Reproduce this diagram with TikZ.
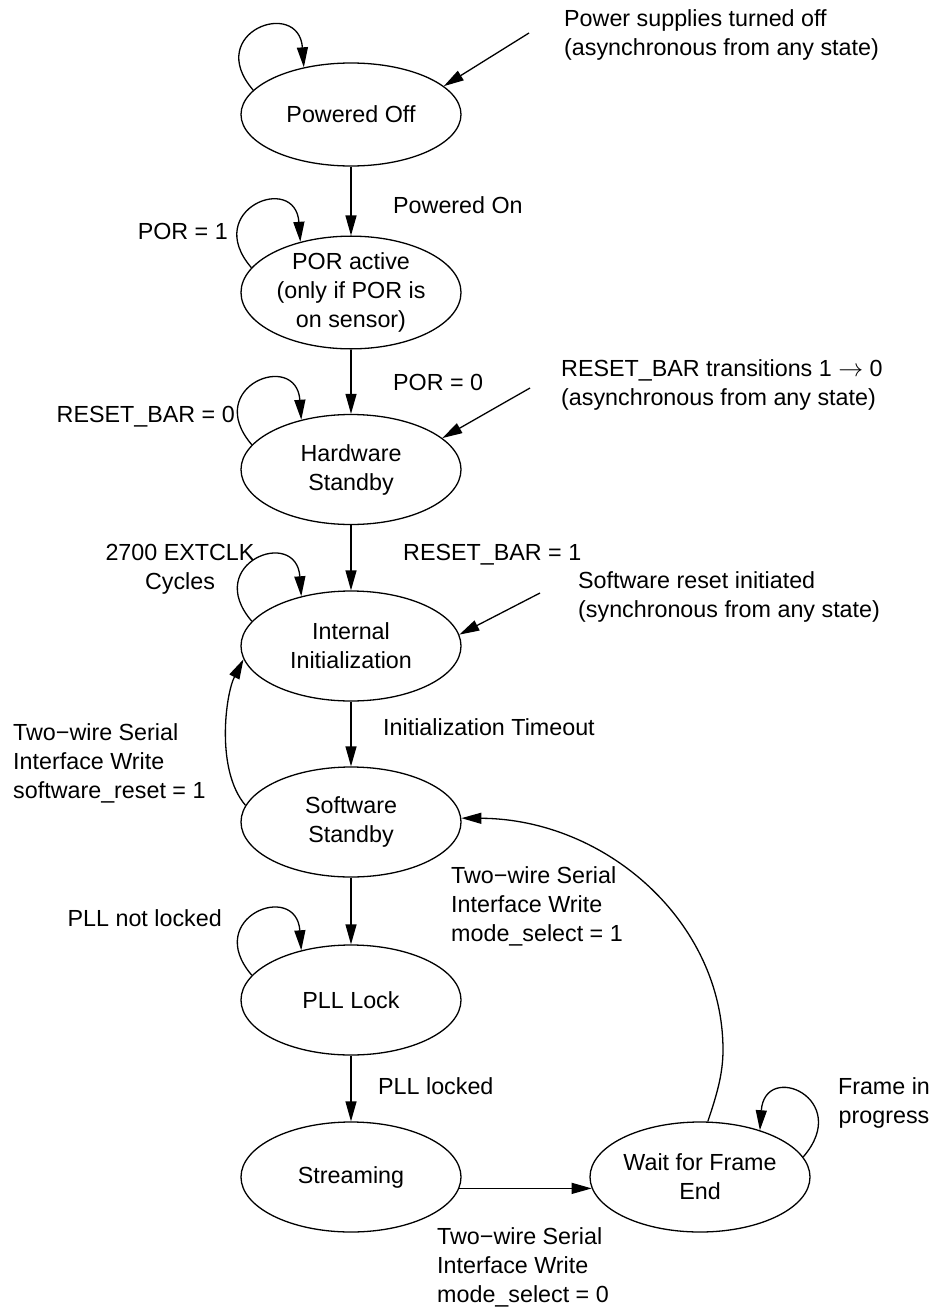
\documentclass[tikz,border=0pt]{standalone}
\usepackage{fontspec}
\setmainfont{Liberation Sans}
\usetikzlibrary{arrows.meta,shapes.geometric}
\newcommand\dfont{\fontsize{23.3}{29}\selectfont}
\begin{document}
\begin{tikzpicture}[x=1pt,y=-1pt,
  state/.style={draw, ellipse, line width=1.3pt, inner sep=0pt, minimum width=220pt, minimum height=110pt, align=center, font=\dfont},
  lbl/.style={inner sep=0pt, font=\dfont, anchor=north west, align=left},
  arr/.style={-{Triangle[length=20pt,width=11pt]}, line width=1.3pt}]
\useasboundingbox (0,0) rectangle (938,1309);

% states
\node[state, minimum height=103pt] (po) at (351,114.5) {Powered Off};
\node[state] (por) at (351,292.5) {POR active\\(only if POR is\\on sensor)};
\node[state] (hs) at (351,469.5) {Hardware\\Standby};
\node[state] (ii) at (351,646) {Internal\\Initialization};
\node[state] (ss) at (351,822) {Software\\Standby};
\node[state] (pll) at (351,1000) {PLL Lock};
\node[state] (st) at (351,1177) {Streaming};
\node[state] (wfe) at (700,1177) {Wait for Frame\\End};

% main transitions
\draw[arr] (po) -- (por);
\draw[arr] (por) -- (hs);
\draw[arr] (hs) -- (ii);
\draw[arr] (ii) -- (ss);
\draw[arr] (ss) -- (pll);
\draw[arr] (pll) -- (st);
\draw[arr] (st.-6) -- (wfe.186);

% self loops
\draw[arr] (po.166) .. controls +(-50,-58) and +(-5,-70) .. (po.135);
\draw[arr] (por.166) .. controls +(-50,-58) and +(-5,-70) .. (por.135);
\draw[arr] (hs.166) .. controls +(-50,-58) and +(-5,-70) .. (hs.135);
\draw[arr] (ii.166) .. controls +(-50,-58) and +(-5,-70) .. (ii.135);
\draw[arr] (pll.166) .. controls +(-50,-58) and +(-5,-70) .. (pll.135);
\draw[arr] (wfe.11) .. controls +(50,-58) and +(5,-70) .. (wfe.38);

% back transitions
\draw[arr] (ss.171) .. controls +(-30,-35) and +(-18,35) .. (ii.187);
\draw[arr] (wfe.82) .. controls (716,1097) and (723,1075) .. (723,1050)
   .. controls (723,922) and (606,819) .. (ss.2);

% asynchronous entries
\coordinate (in1) at (529,33);
\coordinate (in2) at (530,388);
\coordinate (in3) at (540,593);
\draw[arr] (in1) -- (po.17);
\draw[arr] (in2) -- (hs.19);
\draw[arr] (in3) -- (ii.6);

% labels
\node[lbl] (l1) at (564,5.7) {\strut Power supplies turned off\\(asynchronous from any state)};
\node[lbl] (l2) at (393,192.7) {\strut Powered On};
\node[lbl, anchor=north east] (l3) at (228,218.7) {\strut POR = 1};
\node[lbl] (l4) at (393,369.7) {\strut POR = 0};
\node[lbl] (l5) at (561,355.7) {\strut RESET\_BAR transitions 1 $\rightarrow$ 0\\(asynchronous from any state)};
\node[lbl, anchor=north east] (l6) at (235,401.7) {\strut RESET\_BAR = 0};
\node[lbl] (l7) at (403,539.7) {\strut RESET\_BAR = 1};
\node[lbl, anchor=north, align=center] (l8) at (180,539.7) {\strut 2700 EXTCLK\\Cycles};
\node[lbl] (l9) at (578,567.7) {\strut Software reset initiated\\(synchronous from any state)};
\node[lbl] (l10) at (383,714.7) {\strut Initialization Timeout};
\node[lbl] (l11) at (13,719.7) {\strut Two−wire Serial\\Interface Write\\software\_reset = 1};
\node[lbl] (l12) at (451,862.7) {\strut Two−wire Serial\\Interface Write\\mode\_select = 1};
\node[lbl, anchor=north east] (l13) at (222,905.7) {\strut PLL not locked};
\node[lbl] (l14) at (378,1073.7) {\strut PLL locked};
\node[lbl, anchor=north, align=center] (l15) at (884,1073.7) {\strut Frame in\\progress};
\node[lbl] (l16) at (437,1223.7) {\strut Two−wire Serial\\Interface Write\\mode\_select = 0};
\end{tikzpicture}
\end{document}
